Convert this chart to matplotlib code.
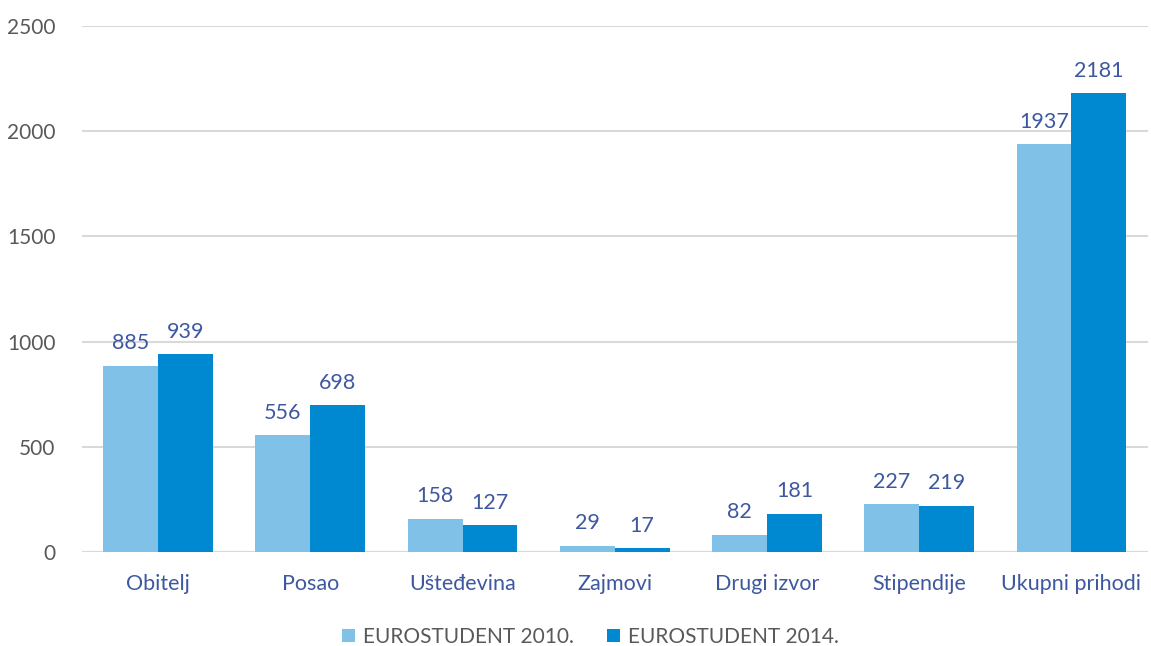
import numpy as np
import matplotlib.pyplot as plt

plt.rcParams['font.family'] = ['Lato', 'DejaVu Sans']

categories = ['Obitelj', 'Posao', 'Ušteđevina', 'Zajmovi', 'Drugi izvor', 'Stipendije', 'Ukupni prihodi']
values_2010 = [885, 556, 158, 29, 82, 227, 1937]
values_2014 = [939, 698, 127, 17, 181, 219, 2181]
series_names = ['EUROSTUDENT 2010.', 'EUROSTUDENT 2014.']
yticks = [0, 500, 1000, 1500, 2000, 2500]

col_light = '#7FC1E7'
col_dark = '#0088D1'
label_col = '#3E58A0'
tick_col = '#595959'

fig = plt.figure(figsize=(11.51, 6.46), dpi=100)
ax = fig.add_axes([0.0712, 0.1455, 0.9258, 0.8143])

x = np.arange(len(categories))
w = 0.36
b1 = ax.bar(x - w / 2, values_2010, w, color=col_light, label=series_names[0], zorder=3)
b2 = ax.bar(x + w / 2, values_2014, w, color=col_dark, label=series_names[1], zorder=3)

for bars in (b1, b2):
    ax.bar_label(bars, padding=9, fontsize=15.5, color=label_col)

ax.set_xlim(-0.5, len(categories) - 0.5)
ax.set_ylim(0, 2500)
ax.set_yticks(yticks)
ax.set_xticks(x)
ax.set_xticklabels(categories, fontsize=15.5, color=label_col)
ax.tick_params(axis='y', labelsize=15, labelcolor=tick_col, length=0, pad=19)
ax.tick_params(axis='x', length=0, pad=16)
ax.grid(axis='y', color='#D9D9D9', linewidth=1.5, zorder=0)
for s in ax.spines.values():
    s.set_visible(False)
ax.axhline(0, color='#D9D9D9', linewidth=1.5, zorder=2)

leg = fig.legend(loc='lower center', bbox_to_anchor=(0.513, -0.03), ncol=2, frameon=False,
                 fontsize=15, handlelength=0.6, handleheight=0.6, handletextpad=0.4,
                 columnspacing=1.6)
for t in leg.get_texts():
    t.set_color(tick_col)

fig.savefig('out.png', dpi=100)
